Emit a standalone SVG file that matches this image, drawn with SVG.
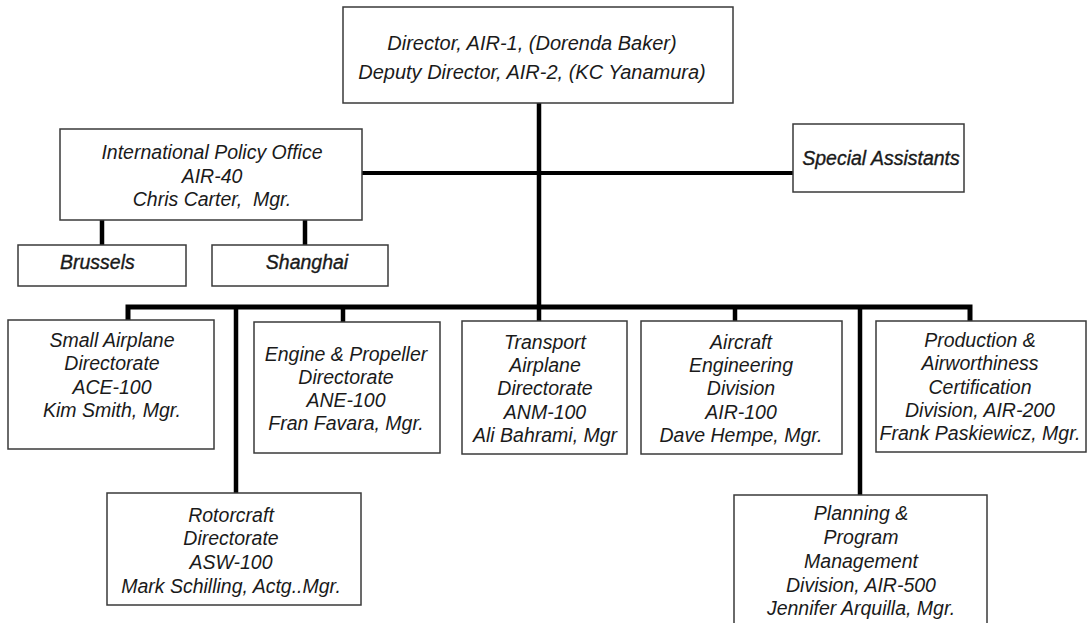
<svg xmlns="http://www.w3.org/2000/svg" width="1088" height="623" viewBox="0 0 1088 623">
<style>
.box{fill:#fff;stroke:#3a3a3a;stroke-width:1.5}
.t{font-family:"Liberation Sans",Arial,sans-serif;font-style:italic;font-size:19.5px;fill:#1a1a1a;text-anchor:middle}
.dt{font-size:20px}
.hv{stroke:#1a1a1a;stroke-width:0.35}
.ln{stroke:#000;fill:none}
</style>
<rect width="1088" height="623" fill="#fff"/>
<g id="connectors">
<line class="ln" x1="539" y1="103" x2="539" y2="321" stroke-width="4.5"/>
<line class="ln" x1="362" y1="173" x2="793" y2="173" stroke-width="4"/>
<line class="ln" x1="102" y1="220" x2="102" y2="245" stroke-width="4.5"/>
<line class="ln" x1="305" y1="220" x2="305" y2="245" stroke-width="4.5"/>
<polyline class="ln" points="128,320 128,307 970,307 970,321" stroke-width="5"/>
<line class="ln" x1="236" y1="307" x2="236" y2="493" stroke-width="4.5"/>
<line class="ln" x1="343" y1="307" x2="343" y2="322" stroke-width="4.5"/>
<line class="ln" x1="735" y1="307" x2="735" y2="321" stroke-width="4.5"/>
<line class="ln" x1="860" y1="307" x2="860" y2="495" stroke-width="4.5"/>
</g>
<g id="director">
<rect class="box" x="343" y="7" width="390" height="96"/>
<text class="t dt" x="532" y="50">Director, AIR-1, (Dorenda Baker)</text>
<text class="t dt" x="532" y="79">Deputy Director, AIR-2, (KC Yanamura)</text>
</g>
<g id="intl-policy">
<rect class="box" x="60" y="129" width="302" height="91"/>
<text class="t" x="212" y="159">International Policy Office</text>
<text class="t" x="212" y="183">AIR-40</text>
<text class="t" x="212" y="206" xml:space="preserve">Chris Carter,  Mgr.</text>
</g>
<g id="special-assistants">
<rect class="box" x="793" y="124" width="171" height="68"/>
<text class="t hv" x="881" y="165">Special Assistants</text>
</g>
<g id="brussels">
<rect class="box" x="18" y="245" width="168" height="41"/>
<text class="t hv" x="60" y="269" text-anchor="start" style="text-anchor:start">Brussels</text>
</g>
<g id="shanghai">
<rect class="box" x="212" y="245" width="176" height="41"/>
<text class="t hv" x="307" y="269">Shanghai</text>
</g>
<g id="small-airplane">
<rect class="box" x="8" y="320" width="206" height="129"/>
<text class="t" x="112" y="347">Small Airplane</text>
<text class="t" x="112" y="370">Directorate</text>
<text class="t" x="112" y="394">ACE-100</text>
<text class="t" x="112" y="417">Kim Smith, Mgr.</text>
</g>
<g id="engine-propeller">
<rect class="box" x="254" y="322" width="186" height="131"/>
<text class="t" x="346" y="361">Engine &amp; Propeller</text>
<text class="t" x="346" y="384">Directorate</text>
<text class="t" x="346" y="407">ANE-100</text>
<text class="t" x="346" y="430">Fran Favara, Mgr.</text>
</g>
<g id="transport-airplane">
<rect class="box" x="462" y="321" width="165" height="133"/>
<text class="t" x="545" y="349">Transport</text>
<text class="t" x="545" y="372">Airplane</text>
<text class="t" x="545" y="395">Directorate</text>
<text class="t" x="545" y="419">ANM-100</text>
<text class="t" x="545" y="442">Ali Bahrami, Mgr</text>
</g>
<g id="aircraft-engineering">
<rect class="box" x="641" y="321" width="201" height="133"/>
<text class="t" x="741" y="349">Aircraft</text>
<text class="t" x="741" y="372">Engineering</text>
<text class="t" x="741" y="395">Division</text>
<text class="t" x="741" y="419">AIR-100</text>
<text class="t" x="741" y="442">Dave Hempe, Mgr.</text>
</g>
<g id="production-airworthiness">
<rect class="box" x="876" y="321" width="210" height="131"/>
<text class="t" x="980" y="347">Production &amp;</text>
<text class="t" x="980" y="370">Airworthiness</text>
<text class="t" x="980" y="394">Certification</text>
<text class="t" x="980" y="417">Division, AIR-200</text>
<text class="t" x="980" y="440">Frank Paskiewicz, Mgr.</text>
</g>
<g id="rotorcraft">
<rect class="box" x="107" y="493" width="254" height="112"/>
<text class="t" x="231" y="522">Rotorcraft</text>
<text class="t" x="231" y="545">Directorate</text>
<text class="t" x="231" y="569">ASW-100</text>
<text class="t" x="231" y="593">Mark Schilling, Actg..Mgr.</text>
</g>
<g id="planning-program">
<rect class="box" x="734" y="495" width="253" height="140"/>
<text class="t" x="861" y="520">Planning &amp;</text>
<text class="t" x="861" y="544">Program</text>
<text class="t" x="861" y="568">Management</text>
<text class="t" x="861" y="592">Division, AIR-500</text>
<text class="t" x="861" y="615">Jennifer Arquilla, Mgr.</text>
</g>
</svg>
